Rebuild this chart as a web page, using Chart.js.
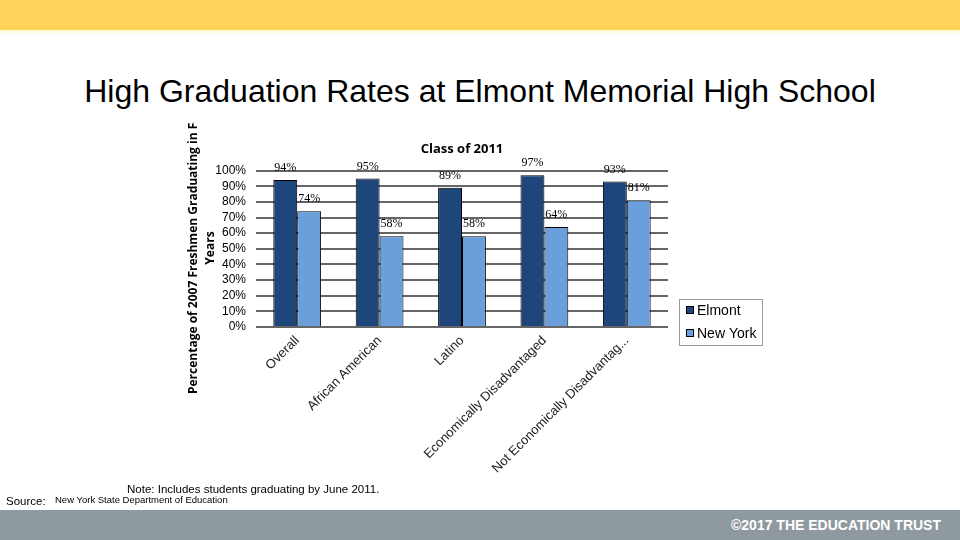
<!DOCTYPE html>
<html>
<head>
<meta charset="utf-8">
<script src="https://cdn.jsdelivr.net/npm/chart.js@4.4.0/dist/chart.umd.min.js"></script>
<style>
  html, body { margin: 0; padding: 0; width: 960px; height: 540px; overflow: hidden; background: #ffffff; font-family: "Liberation Sans", Arial, sans-serif; }
  #topband { position: absolute; left: 0; top: 0; width: 960px; height: 30px; background: #FFD35A; }
  #topfade { position: absolute; left: 0; top: 30px; width: 960px; height: 4px; background: linear-gradient(#FFF6C8, #ffffff); }
  #footer { position: absolute; left: 0; top: 510px; width: 960px; height: 30px; background: #8F9AA0; }
  #copy { position: absolute; right: 19px; top: 517px; color: #ffffff; font: bold 14px "Liberation Sans", Arial, sans-serif; }
  #title { position: absolute; left: 0; top: 73px; width: 960px; text-align: center; font-size: 32px; color: #000; }
  #wrap { position: absolute; left: 0; top: 0; width: 960px; height: 540px; }
  #ytitleClip { position: absolute; left: 180px; top: 122px; width: 40px; height: 290px; overflow: hidden; }
  #ytitle { position: absolute; left: -135px; top: 110px; width: 310px; height: 32px; line-height: 16px; text-align: center; transform: rotate(-90deg); transform-origin: 155px 16px; font: bold 12px "Open Sans", sans-serif; color: #000; white-space: nowrap; }
  #note { position: absolute; left: 127px; top: 483px; font-size: 11.5px; color: #000; }
  #srcLbl { position: absolute; left: 6px; top: 495px; font-size: 11.5px; color: #000; }
  #src { position: absolute; left: 55px; top: 494px; font-size: 9.5px; color: #000; }
</style>
</head>
<body>
<div id="topband"></div>
<div id="topfade"></div>
<div id="title">High Graduation Rates at Elmont Memorial High School</div>
<div id="wrap"><canvas id="c" width="960" height="540"></canvas></div>
<div id="ytitleClip"><div id="ytitle">Percentage of 2007 Freshmen Graduating in Four<br>Years</div></div>
<div id="note">Note: Includes students graduating by June 2011.</div>
<div id="srcLbl">Source:</div>
<div id="src">New York State Department of Education</div>
<div id="footer"></div>
<div id="copy">©2017 THE EDUCATION TRUST</div>
<script>
const categories = ["Overall", "African American", "Latino", "Economically Disadvantaged", "Not Economically Disadvantag..."];
const elmontValues = [94, 95, 89, 97, 93];
const newYorkValues = [74, 58, 58, 64, 81];
const seriesNames = ["Elmont", "New York"];
const chartTitle = "Class of 2011";

const valueLabels = {
  id: 'valueLabels',
  afterDatasetsDraw(chart) {
    const ctx = chart.ctx;
    ctx.save();
    ctx.font = '12px "Liberation Serif", serif';
    ctx.fillStyle = '#000';
    ctx.textAlign = 'center';
    ctx.textBaseline = 'middle';
    chart.data.datasets.forEach((ds, i) => {
      const meta = chart.getDatasetMeta(i);
      meta.data.forEach((el, j) => {
        ctx.fillText(ds.data[j] + '%', el.x, el.y - 12);
      });
    });
    ctx.restore();
  }
};

const boxLegend = {
  id: 'boxLegend',
  afterDraw(chart) {
    const ctx = chart.ctx;
    const a = chart.chartArea;
    const x0 = a.right + 11, y0 = a.bottom - 28, w = 83, h = 46;
    ctx.save();
    ctx.strokeStyle = '#9a9a9a';
    ctx.lineWidth = 1;
    ctx.strokeRect(x0 + 0.5, y0 + 0.5, w, h);
    ctx.font = '14px "Liberation Sans", Arial, sans-serif';
    ctx.textBaseline = 'middle';
    chart.data.datasets.forEach((ds, i) => {
      const cy = y0 + 11 + i * 23;
      ctx.fillStyle = ds.backgroundColor;
      ctx.fillRect(x0 + 7, cy - 4, 8, 8);
      ctx.strokeStyle = '#000';
      ctx.strokeRect(x0 + 7.5, cy - 3.5, 7, 7);
      ctx.fillStyle = '#000';
      ctx.fillText(ds.label, x0 + 18, cy + 1);
    });
    ctx.restore();
  }
};

new Chart(document.getElementById('c'), {
  type: 'bar',
  data: {
    labels: categories,
    datasets: [
      { label: seriesNames[0], data: elmontValues, backgroundColor: '#1F467A', borderColor: '#000', borderWidth: 1, categoryPercentage: 0.58, barPercentage: 1.0 },
      { label: seriesNames[1], data: newYorkValues, backgroundColor: '#6A9FDC', borderColor: '#000', borderWidth: 1, categoryPercentage: 0.58, barPercentage: 1.0 }
    ]
  },
  options: {
    responsive: false,
    animation: false,
    layout: { padding: { left: 216, right: 292, top: 141, bottom: 63 } },
    plugins: {
      legend: { display: false },
      tooltip: { enabled: false },
      title: {
        display: true,
        text: chartTitle,
        fullSize: false,
        color: '#000',
        font: { family: '"Open Sans", sans-serif', size: 13, weight: 'bold' },
        padding: { top: 0, bottom: 14 }
      }
    },
    scales: {
      x: {
        grid: { display: false, drawTicks: false },
        border: { display: false },
        ticks: {
          autoSkip: false, minRotation: 45, maxRotation: 45, padding: 6,
          color: '#222', font: { family: '"Liberation Sans", Arial, sans-serif', size: 13 }
        },
        afterFit(s) { s.height = 150; }
      },
      y: {
        min: 0, max: 100,
        grid: { color: '#666666', lineWidth: 2, drawTicks: false },
        border: { display: false },
        ticks: {
          stepSize: 10, autoSkip: false, padding: 10, color: '#000',
          font: { family: '"Liberation Sans", Arial, sans-serif', size: 12 },
          callback: (v) => v + '%'
        },
        afterFit(s) { s.width = 40; }
      }
    }
  },
  plugins: [valueLabels, boxLegend]
});
</script>
</body>
</html>
